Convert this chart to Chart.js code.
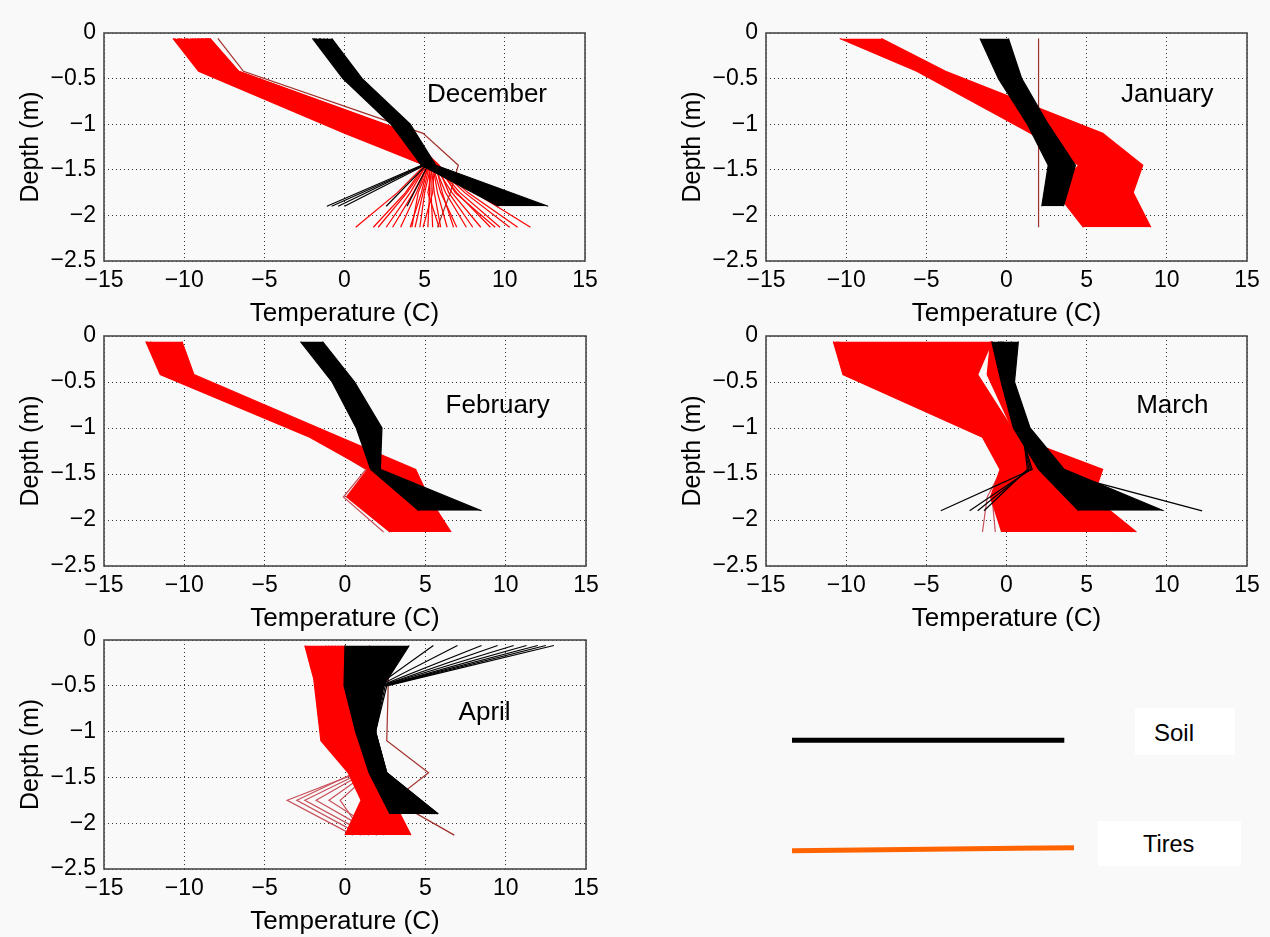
<!DOCTYPE html>
<html>
<head>
<meta charset="utf-8">
<script src="https://cdn.jsdelivr.net/npm/chart.js@4.4.1/dist/chart.umd.min.js"></script>
<style>
  html, body { margin: 0; padding: 0; background: #f9f9f9; overflow: hidden; }
  body { width: 1270px; height: 937px; position: relative; font-family: "Liberation Sans", Arial, sans-serif; }
  canvas.panel { position: absolute; }
  svg.legend { position: absolute; left: 0; top: 0; }
</style>
</head>
<body>
<svg class="legend" width="1270" height="937" font-family="Liberation Sans, Arial, sans-serif">
  <line x1="792" y1="740.3" x2="1064.3" y2="740.3" stroke="#000000" stroke-width="5"/>
  <line x1="792" y1="850.7" x2="1074" y2="847.7" stroke="#ff6400" stroke-width="5"/>
  <rect x="1135" y="708" width="100" height="47" fill="#ffffff"/>
  <text x="1154" y="740.5" font-size="24" fill="#000">Soil</text>
  <rect x="1098" y="821" width="143" height="45" fill="#ffffff"/>
  <text x="1143" y="852" font-size="23.5" fill="#000">Tires</text>
</svg>
<script>
// ---------- axes ----------
const tempTicks  = [-15, -10, -5, 0, 5, 10, 15];
const depthTicks = [0, -0.5, -1, -1.5, -2, -2.5];

// sensor depths (m)
const soilDepth = [-0.06, -0.5, -1.0, -1.45, -1.9];
const tireDepth = [-0.06, -0.42, -1.1, -1.45, -1.75, -2.13];

// ---------- December ----------
const decSoilLow  = [-2.0, -0.1, 2.9, 4.8, 9.6];
const decSoilHigh = [-0.8, 1.1, 4.1, 5.7, 12.7];
const decSoilLines = [
  [-1.9, 0.0, 3.0, 4.8, -1.1],
  [-1.8, 0.1, 3.1, 4.9, -0.8],
  [-1.6, 0.2, 3.2, 4.9, -0.4],
  [-1.5, 0.3, 3.3, 5.0, 0.0],
  [-1.3, 0.5, 3.5, 5.1, 2.6],
  [-1.1, 0.7, 3.7, 5.2, 3.9]
];
const decTireLow  = [-10.7, -9.1, 0.0, 5.0];
const decTireHigh = [-8.4, -6.6, 4.1, 5.8];
const decTireLines = [
  [-10.6, -9.0, 0.2, 5.0, 3.3, 0.7],
  [-10.4, -8.8, 0.5, 5.0, 3.8, 1.8],
  [-10.2, -8.6, 0.8, 5.1, 3.9, 2.1],
  [-10.0, -8.4, 1.1, 5.1, 4.1, 2.6],
  [-9.8, -8.2, 1.3, 5.2, 4.5, 3.5],
  [-9.6, -8.0, 1.5, 5.2, 4.8, 4.1],
  [-9.4, -7.9, 1.7, 5.3, 4.9, 4.4],
  [-9.3, -7.7, 1.9, 5.3, 5.3, 5.2],
  [-9.2, -7.6, 2.1, 5.4, 5.4, 5.5],
  [-9.1, -7.5, 2.3, 5.4, 5.6, 6.0],
  [-9.0, -7.4, 2.5, 5.5, 5.8, 6.4],
  [-8.9, -7.3, 2.7, 5.5, 6.0, 7.0],
  [-8.8, -7.2, 2.9, 5.6, 6.3, 7.6],
  [-8.7, -7.1, 3.1, 5.6, 6.7, 8.5],
  [-8.6, -7.0, 3.3, 5.7, 7.0, 9.1],
  [-8.6, -6.9, 3.5, 5.7, 7.2, 9.7],
  [-8.5, -6.8, 3.7, 5.7, 7.5, 10.3],
  [-8.5, -6.7, 3.9, 5.8, 7.7, 10.8],
  [-8.4, -6.6, 4.0, 5.8, 8.1, 11.6],
  [-10.3, -8.7, 0.7, 5.2, 4.3, 3.0],
  [-9.9, -8.3, 1.2, 5.3, 4.6, 4.2],
  [-9.5, -7.9, 1.6, 5.4, 5.0, 4.7],
  [-9.1, -7.6, 2.2, 5.5, 5.2, 5.9],
  [-8.9, -7.3, 2.6, 5.6, 5.5, 4.9],
  [-8.7, -7.0, 3.0, 5.7, 6.1, 6.8],
  [-8.6, -6.9, 3.4, 5.8, 6.5, 8.0],
  [-8.5, -6.8, 3.8, 5.9, 6.9, 9.4]
];
const decTireOdd = [-7.9, -6.3, 4.9, 7.1, 6.6, 5.8];

// ---------- January ----------
const janSoilLow  = [-1.65, -0.5, 1.3, 2.6, 2.2];
const janSoilHigh = [0.12, 0.95, 2.6, 4.3, 3.55];
const janTireLow  = [-10.4, -5.6, 1.5, 4.5, 3.1, 4.8];
const janTireHigh = [-7.8, -3.8, 6.0, 8.5, 7.9, 9.0];
const janTireOdd  = [2.0, 2.0, 2.0, 2.0, 2.0, 2.0];

// ---------- February ----------
const febSoilLow  = [-2.77, -0.8, 0.7, 1.6, 4.6];
const febSoilHigh = [-1.4, 0.6, 2.3, 2.2, 8.5];
const febTireLow  = [-12.4, -11.5, -2.2, 1.4, 0.1, 2.8];
const febTireHigh = [-10.15, -9.4, -0.3, 4.4, 5.2, 6.6];
const febTirePale = [
  [-12.3, -11.4, -1.9, 1.3, -0.1, 2.4],
  [-12.1, -11.2, -1.7, 1.5, 0.3, 2.9]
];

// ---------- March ----------
const marSoilLow  = [-0.92, -0.33, 0.43, 2.0, 4.5];
const marSoilHigh = [0.74, 0.5, 1.47, 3.6, 9.8];
const marSoilLines = [
  [0.3, 0.2, 1.2, 2.5, 12.2],
  [-0.5, -0.1, 0.8, 1.6, -4.1],
  [-0.4, 0.0, 0.9, 1.5, -2.3],
  [-0.3, 0.0, 0.9, 1.4, -1.8],
  [-0.2, 0.1, 1.0, 1.3, -1.4]
];
const marTireLow   = [-10.8, -10.2, -1.5, -0.4, -1.0, -0.3];
const marTireHigh  = [-0.9, -1.8, 0.7, 6.0, 5.4, 8.1];
const marTireBLow  = [-1.0, -1.2, 0.6, 5.5, 5.0, 7.0];
const marTireBHigh = [-0.9, -0.45, 0.74, 5.8, 5.3, 7.8];
const marTirePale = [
  [-10.6, -10.0, -1.3, -0.3, -1.2, -1.5],
  [-10.5, -9.9, -1.2, -0.2, -0.9, -0.7]
];

// ---------- April ----------
const aprSoilLow  = [0.0, -0.06, 0.66, 1.5, 2.8];
const aprSoilHigh = [4.0, 2.4, 1.9, 2.6, 5.8];
const aprSoilLines = [
  [5.5, 2.0, 1.5, 2.2, 4.6],
  [7.0, 2.1, 1.6, 2.3, 4.9],
  [8.5, 2.2, 1.6, 2.3, 5.1],
  [9.5, 2.3, 1.7, 2.4, 5.3],
  [10.5, 2.3, 1.7, 2.4, 5.4],
  [11.3, 2.4, 1.8, 2.5, 5.5],
  [12.0, 2.4, 1.8, 2.5, 5.6],
  [12.5, 2.5, 1.9, 2.6, 5.7],
  [13.0, 2.6, 1.9, 2.6, 5.8]
];
const aprTireLow  = [-2.5, -1.95, -1.5, 0.2, 1.0, 0.0];
const aprTireHigh = [0.0, 0.1, 1.3, 2.4, 3.0, 4.1];
const aprTirePale = [
  [-1.0, -0.8, 0.0, 0.8, -3.6, 0.5],
  [-1.2, -1.0, -0.2, 0.6, -3.0, 1.0],
  [-0.8, -0.6, 0.2, 1.0, -2.5, 1.5],
  [-0.6, -0.4, 0.4, 1.2, -1.8, 2.0],
  [-0.4, -0.2, 0.6, 1.4, -1.0, 2.4],
  [-0.2, 0.0, 0.8, 1.6, -0.3, 1.2]
];
const aprTireOdd = [1.5, 2.7, 2.6, 5.2, 3.0, 6.8];

// ---------- styling ----------
const SOIL = '#000000', TIRE = '#ff0000', ODD = '#a0302a', PALE = '#c8505a';
const FONT = '"Liberation Sans", Arial, Helvetica, sans-serif';

const panels = [
  { name: 'December', box: [104, 33, 585, 261], label: [8.89, -0.68],
    soilBands: [[decSoilLow, decSoilHigh]], soilLines: decSoilLines,
    tireBands: [[decTireLow, decTireHigh]], tireLines: decTireLines, pale: [], odd: [decTireOdd] },
  { name: 'January', box: [766, 33, 1247, 261], label: [10.03, -0.68],
    soilBands: [[janSoilLow, janSoilHigh]], soilLines: [],
    tireBands: [[janTireLow, janTireHigh]], tireLines: [], pale: [], odd: [janTireOdd] },
  { name: 'February', box: [104, 336, 586, 566], label: [9.5, -0.76],
    soilBands: [[febSoilLow, febSoilHigh]], soilLines: [],
    tireBands: [[febTireLow, febTireHigh]], tireLines: [], pale: febTirePale, odd: [] },
  { name: 'March', box: [766, 336, 1247, 566], label: [10.34, -0.76],
    soilBands: [[marSoilLow, marSoilHigh]], soilLines: marSoilLines,
    tireBands: [[marTireLow, marTireHigh], [marTireBLow, marTireBHigh]], tireLines: [], pale: marTirePale, odd: [] },
  { name: 'April', box: [104, 640, 586, 869], label: [8.69, -0.79],
    soilBands: [[aprSoilLow, aprSoilHigh]], soilLines: aprSoilLines,
    tireBands: [[aprTireLow, aprTireHigh]], tireLines: [], pale: aprTirePale, odd: [aprTireOdd] }
];

function series(temps, depths, color) {
  return {
    data: temps.map((t, i) => ({ x: t, y: depths[i] })),
    borderColor: color, backgroundColor: color,
    borderWidth: 1.2, pointRadius: 0, pointHoverRadius: 0, fill: false, tension: 0
  };
}
function buildDatasets(p) {
  const ds = [];
  p.soilBands.forEach(([lo, hi]) => { ds.push(series(lo, soilDepth, SOIL)); ds.push(Object.assign(series(hi, soilDepth, SOIL), { fill: '-1' })); });
  p.soilLines.forEach(l => ds.push(series(l, soilDepth, SOIL)));
  p.tireBands.forEach(([lo, hi]) => { ds.push(series(lo, tireDepth, TIRE)); ds.push(Object.assign(series(hi, tireDepth, TIRE), { fill: '-1' })); });
  p.tireLines.forEach(l => ds.push(series(l, tireDepth, TIRE)));
  p.pale.forEach(l => ds.push(series(l, tireDepth, PALE)));
  p.odd.forEach(l => ds.push(series(l, tireDepth, ODD)));
  return ds;
}

const frame = {
  id: 'frame',
  afterDatasetsDraw(chart, args, opts) {
    const { ctx, chartArea: a, scales: { x, y } } = chart;
    ctx.save();
    ctx.font = '26px ' + FONT;
    ctx.fillStyle = '#000';
    ctx.textAlign = 'center';
    ctx.textBaseline = 'middle';
    ctx.fillText(opts.text, x.getPixelForValue(opts.at[0]), y.getPixelForValue(opts.at[1]));
    ctx.strokeStyle = '#4a4a4a';
    ctx.lineWidth = 1.6;
    ctx.strokeRect(a.left, a.top, a.right - a.left, a.bottom - a.top);
    ctx.restore();
  }
};

const minus = v => String(v).replace('-', '\u2212');

const Y_W = 104, PAD_T = 33, PAD_R = 20, X_H = 70;
panels.forEach(p => {
  const [l, t, r, b] = p.box;
  const cv = document.createElement('canvas');
  cv.className = 'panel';
  const w = (r - l) + Y_W + PAD_R, h = (b - t) + PAD_T + X_H;
  cv.width = w; cv.height = h;
  cv.style.left = (l - Y_W) + 'px';
  cv.style.top = (t - PAD_T) + 'px';
  cv.style.width = w + 'px'; cv.style.height = h + 'px';
  document.body.appendChild(cv);

  const gridOpts = { color: '#333333', lineWidth: 1, drawTicks: false, borderDash: [1, 3] };
  new Chart(cv.getContext('2d'), {
    type: 'line',
    data: { datasets: buildDatasets(p) },
    plugins: [frame],
    options: {
      indexAxis: 'y',
      responsive: false, animation: false, devicePixelRatio: 1,
      layout: { padding: { top: PAD_T, right: PAD_R, left: 0, bottom: 0 } },
      plugins: { legend: { display: false }, tooltip: { enabled: false }, frame: { text: p.name, at: p.label } },
      elements: { line: { borderJoinStyle: 'miter' } },
      scales: {
        x: {
          type: 'linear', position: 'bottom', min: -15, max: 15,
          afterBuildTicks: s => { s.ticks = tempTicks.map(v => ({ value: v })); },
          afterFit: s => { s.height = X_H; },
          grid: gridOpts,
          border: { display: false, dash: [1, 3] },
          ticks: { padding: 6, color: '#000', autoSkip: false, maxRotation: 0, font: { family: FONT, size: 23 }, callback: v => minus(v) },
          title: { display: true, text: 'Temperature (C)', color: '#000', font: { family: FONT, size: 26 }, padding: { top: 0, bottom: 1.4 } }
        },
        y: {
          type: 'linear', position: 'left', min: -2.5, max: 0,
          afterBuildTicks: s => { s.ticks = depthTicks.slice().reverse().map(v => ({ value: v })); },
          afterFit: s => { s.width = Y_W; },
          grid: gridOpts,
          border: { display: false, dash: [1, 3] },
          ticks: { padding: 8, color: '#000', autoSkip: false, font: { family: FONT, size: 23 }, callback: v => minus(v) },
          title: { display: true, text: 'Depth (m)', color: '#000', font: { family: FONT, size: 25 }, padding: { top: 16, bottom: 0 } }
        }
      }
    }
  });
});
</script>
</body>
</html>
